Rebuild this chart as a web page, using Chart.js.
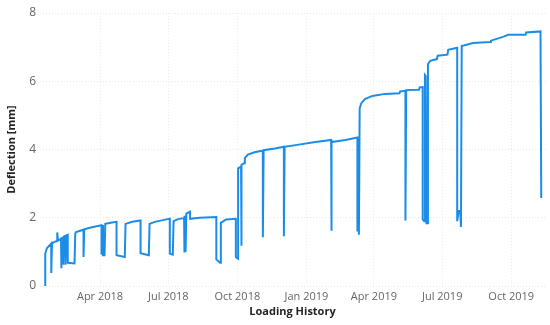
<!DOCTYPE html>
<html>
<head>
<meta charset="utf-8">
<script src="https://cdn.jsdelivr.net/npm/chart.js@4.4.1/dist/chart.umd.min.js"></script>
<style>
  html, body { margin: 0; padding: 0; background: #fff; }
  canvas { display: block; }
</style>
</head>
<body>
<canvas id="chart" width="550" height="325"></canvas>
<script>
// Readings of the deflection gauge (date, mm)
const dates = [
  '2018-01-18', '2018-01-18', '2018-01-20', '2018-01-24', '2018-01-26', '2018-01-26', '2018-01-27',
  '2018-01-31', '2018-02-03', '2018-02-03', '2018-02-04', '2018-02-08', '2018-02-08', '2018-02-09',
  '2018-02-11', '2018-02-11', '2018-02-12', '2018-02-14', '2018-02-14', '2018-02-15', '2018-02-17',
  '2018-02-17', '2018-02-26', '2018-02-27', '2018-02-28', '2018-03-10', '2018-03-10', '2018-03-11',
  '2018-03-21', '2018-04-03', '2018-04-03', '2018-04-04', '2018-04-05', '2018-04-05', '2018-04-07',
  '2018-04-08', '2018-04-17', '2018-04-23', '2018-04-23', '2018-05-04', '2018-05-05', '2018-05-14',
  '2018-05-25', '2018-05-25', '2018-06-05', '2018-06-06', '2018-06-13', '2018-06-30', '2018-07-03',
  '2018-07-03', '2018-07-07', '2018-07-08', '2018-07-14', '2018-07-22', '2018-07-22', '2018-07-23',
  '2018-07-24', '2018-07-25', '2018-07-30', '2018-07-30', '2018-08-12', '2018-09-03', '2018-09-03',
  '2018-09-08', '2018-09-09', '2018-09-16', '2018-09-29', '2018-09-29', '2018-10-02', '2018-10-02',
  '2018-10-06', '2018-10-06', '2018-10-07', '2018-10-10', '2018-10-11', '2018-10-15', '2018-10-24',
  '2018-11-04', '2018-11-04', '2018-11-05', '2018-11-20', '2018-12-02', '2018-12-02', '2018-12-03',
  '2018-12-24', '2019-01-13', '2019-02-03', '2019-02-03', '2019-02-04', '2019-02-22', '2019-03-10',
  '2019-03-10', '2019-03-11', '2019-03-12', '2019-03-13', '2019-03-15', '2019-03-20', '2019-03-30',
  '2019-04-16', '2019-05-05', '2019-05-06', '2019-05-13', '2019-05-13', '2019-05-14', '2019-05-31',
  '2019-06-01', '2019-06-05', '2019-06-05', '2019-06-07', '2019-06-08', '2019-06-09', '2019-06-10',
  '2019-06-11', '2019-06-12', '2019-06-15', '2019-06-24', '2019-06-25', '2019-07-08', '2019-07-09',
  '2019-07-21', '2019-07-21', '2019-07-23', '2019-07-25', '2019-07-26', '2019-07-27', '2019-08-11',
  '2019-09-03', '2019-09-04', '2019-09-20', '2019-09-27', '2019-10-20', '2019-10-21', '2019-11-09',
  '2019-11-10'
];
const deflection = [
  0.00, 0.95, 1.10, 1.20, 1.25, 0.38, 1.25,
  1.30, 1.32, 1.57, 1.33, 1.38, 0.52, 1.40,
  1.42, 0.62, 1.45, 1.47, 0.62, 1.48, 1.50,
  0.68, 0.66, 1.54, 1.58, 1.65, 0.85, 1.66,
  1.72, 1.78, 0.92, 1.76, 1.76, 0.90, 0.90,
  1.82, 1.86, 1.88, 0.90, 0.85, 1.82, 1.88,
  1.92, 0.96, 0.90, 1.82, 1.88, 1.96, 1.97,
  0.95, 0.92, 1.90, 1.96, 1.99, 0.98, 2.06,
  1.00, 2.12, 2.18, 1.97, 2.00, 2.02, 0.78,
  0.68, 1.85, 1.95, 1.97, 0.85, 0.80, 3.45,
  3.50, 1.18, 3.55, 3.60, 3.75, 3.85, 3.92,
  3.97, 1.43, 3.98, 4.03, 4.08, 1.46, 4.08,
  4.15, 4.22, 4.28, 1.62, 4.22, 4.28, 4.35,
  1.60, 4.30, 1.50, 5.20, 5.35, 5.48, 5.57,
  5.63, 5.65, 5.70, 5.72, 1.92, 5.74, 5.75,
  5.82, 5.83, 1.95, 1.90, 6.18, 6.15, 1.84,
  1.84, 6.50, 6.60, 6.65, 6.75, 6.78, 6.92,
  6.98, 1.90, 2.20, 2.20, 1.73, 7.03, 7.12,
  7.15, 7.19, 7.30, 7.36, 7.36, 7.43, 7.46,
  2.58
];

// Quarter ticks on the time axis
const tickDates = ['2018-04-01', '2018-07-01', '2018-10-01', '2019-01-01', '2019-04-01', '2019-07-01', '2019-10-01'];
const tickLabels = ['Apr 2018', 'Jul 2018', 'Oct 2018', 'Jan 2019', 'Apr 2019', 'Jul 2019', 'Oct 2019'];
const yTicks = [0, 2, 4, 6, 8];

const toDay = s => Date.parse(s) / 86400000;
const points = dates.map((d, i) => ({ x: toDay(d), y: deflection[i] }));

const font = { family: "'Segoe UI', 'Open Sans', sans-serif", size: 11 };

new Chart(document.getElementById('chart'), {
  type: 'line',
  data: {
    datasets: [{
      data: points,
      borderColor: '#1B8DE8',
      borderWidth: 2,
      pointRadius: 0,
      tension: 0,
      fill: false
    }]
  },
  options: {
    responsive: false,
    animation: false,
    devicePixelRatio: 1,
    layout: { padding: { top: 13, right: 5, left: 0, bottom: 0 } },
    plugins: { legend: { display: false }, tooltip: { enabled: false } },
    scales: {
      x: {
        type: 'linear',
        min: toDay('2018-01-11'),
        max: toDay('2019-11-15'),
        afterFit: s => { s.height = 39; },
        afterBuildTicks: s => { s.ticks = tickDates.map(d => ({ value: toDay(d) })); },
        ticks: {
          autoSkip: false,
          maxRotation: 0,
          padding: 4,
          color: '#666',
          font: font,
          callback: (v, i) => tickLabels[i]
        },
        grid: { color: '#eeeeee', drawTicks: false },
        border: { display: false, dash: [1, 2] },
        title: {
          display: true,
          text: 'Loading History',
          color: '#252423',
          font: { family: font.family, size: 11, weight: 'bold' },
          padding: { top: 0, bottom: 7 }
        }
      },
      y: {
        min: 0,
        max: 8,
        afterFit: s => { s.width = 40; },
        afterBuildTicks: s => { s.ticks = yTicks.map(v => ({ value: v })); },
        ticks: { padding: 4, color: '#666', font: { family: font.family, size: 12 } },
        grid: { color: '#e6e6e6', drawTicks: false },
        border: { display: false, dash: [1, 2] },
        title: {
          display: true,
          text: 'Deflection [mm]',
          color: '#252423',
          font: { family: font.family, size: 11, weight: 'bold' },
          padding: { top: 5, bottom: 0 }
        }
      }
    }
  }
});
</script>
</body>
</html>
